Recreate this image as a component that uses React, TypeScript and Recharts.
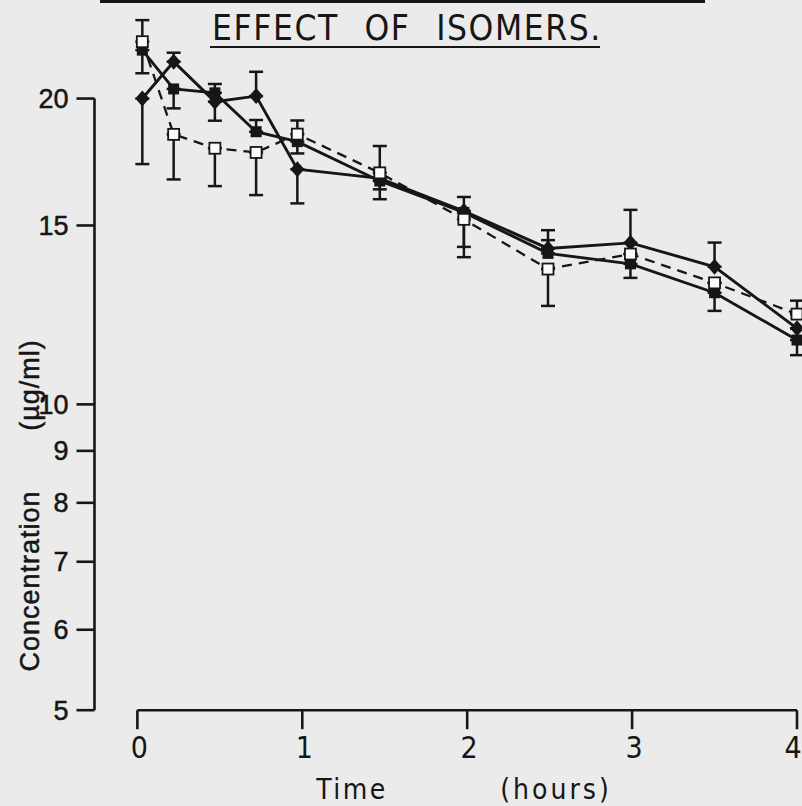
import React from 'react';
import { ComposedChart, Line, XAxis, YAxis, ErrorBar, ReferenceLine, Label } from 'recharts';

// sampling times (hours)
const times = [0.03, 0.22, 0.47, 0.72, 0.97, 1.47, 1.98, 2.49, 2.99, 3.5, 4.0];

// filled diamonds, solid line
const diamondMean = [20.0, 21.74, 19.86, 20.11, 17.04, 16.69, 15.5, 14.24, 14.42, 13.66, 11.88];
const diamondErrLow = [2.76, 0, 0.84, 0, 1.27, 0.77, 0, 0, 0, 0, 0];
const diamondErrHigh = [0, 0.45, 0, 1.14, 0, 0, 0.5, 0.6, 1.12, 0.77, 0];

// filled squares, solid line
const squareMean = [22.32, 20.44, 20.26, 18.55, 18.14, 16.59, 15.45, 14.08, 13.75, 12.88, 11.57];
const squareErrLow = [1.14, 0.88, 0, 0, 0.48, 0.31, 1.16, 0, 0.43, 0.52, 0.39];
const squareErrHigh = [0, 0, 0.41, 0.5, 0, 0, 0, 0.43, 0, 0, 0];

// open squares, dashed line
const openMean = [22.75, 18.44, 17.87, 17.7, 18.45, 16.9, 15.21, 13.59, 14.06, 13.17, 12.27];
const openErrLow = [0, 1.79, 1.47, 1.63, 0, 0, 1.25, 1.09, 0, 0, 0];
const openErrHigh = [1.14, 0, 0, 0, 0.58, 1.06, 0, 0, 0, 0, 0.38];

const yTicks = [5, 6, 7, 8, 9, 10, 15, 20];
const xTicks = [0, 1, 2, 3, 4];

const X_MIN = -0.26;
const INK = '#161616';
const PAPER = '#ebebeb';
const NARROW = '"Liberation Sans Narrow", "DejaVu Sans Condensed", sans-serif';
const SANS = '"Liberation Sans", Arial, sans-serif';

const data = times.map((t, i) => ({
  t,
  diamond: diamondMean[i],
  diamondErr: [diamondErrLow[i], diamondErrHigh[i]],
  square: squareMean[i],
  squareErr: [squareErrLow[i], squareErrHigh[i]],
  open: openMean[i],
  openErr: [openErrLow[i], openErrHigh[i]],
}));

const DiamondDot = (props: any) => {
  const { cx, cy, index } = props;
  if (cx == null || cy == null) return <g key={`d-${index}`} />;
  return (
    <path
      key={`d-${index}`}
      d={`M${cx},${cy - 8} L${cx + 7},${cy} L${cx},${cy + 8} L${cx - 7},${cy} Z`}
      fill={INK}
    />
  );
};

const SquareDot = (props: any) => {
  const { cx, cy, index } = props;
  if (cx == null || cy == null) return <g key={`s-${index}`} />;
  return <rect key={`s-${index}`} x={cx - 5.5} y={cy - 5.5} width={11} height={11} fill={INK} />;
};

const OpenDot = (props: any) => {
  const { cx, cy, index } = props;
  if (cx == null || cy == null) return <g key={`o-${index}`} />;
  return (
    <rect key={`o-${index}`} x={cx - 5.5} y={cy - 5.5} width={11} height={11} fill="#fafafa" stroke={INK} strokeWidth={1.8} />
  );
};

// hour labels; the last one is pulled in so it stays inside the frame
const HourTick = (props: any) => {
  const { x, y, payload } = props;
  const last = payload.value === 4;
  return (
    <text x={last ? x - 4 : x + 2} y={y} dy="0.71em" textAnchor="middle" fill={INK} fontSize={30} fontFamily={NARROW}>
      {payload.value}
    </text>
  );
};

// rotated axis title, two parts with a wide gap between them
const YTitle = (props: any) => {
  const { viewBox } = props;
  const x = viewBox.x - 5;
  return (
    <g fill={INK} stroke={INK} strokeWidth={0.5} fontFamily={SANS} fontSize={27}>
      <text x={x} y={581} textAnchor="middle" dominantBaseline="central" transform={`rotate(-90 ${x} 581)`} letterSpacing={1}>
        Concentration
      </text>
      <text x={x} y={385} textAnchor="middle" dominantBaseline="central" transform={`rotate(-90 ${x} 385)`} letterSpacing={1}>
        (µg/ml)
      </text>
    </g>
  );
};

const XTitle = () => (
  <g fill={INK} fontFamily={NARROW} fontSize={28}>
    <text x={352} y={799} textAnchor="middle" letterSpacing={2.5}>
      Time
    </text>
    <text x={556} y={799} textAnchor="middle" letterSpacing={3}>
      (hours)
    </text>
  </g>
);

export default function App() {
  return (
    <div style={{ position: 'absolute', left: 0, top: 0, width: 802, height: 806, background: PAPER, overflow: 'hidden' }}>
      <ComposedChart width={802} height={806} data={data} margin={{ top: 18.1, right: 5, bottom: 0, left: 34.5 }}>
        <XAxis
          dataKey="t"
          type="number"
          domain={[X_MIN, 4]}
          ticks={xTicks}
          interval={0}
          axisLine={false}
          tickSize={19}
          tickMargin={7}
          height={95.8}
          tickLine={{ stroke: INK, strokeWidth: 2.6 }}
          tick={<HourTick />}
        >
          <Label content={<XTitle />} />
        </XAxis>
        <YAxis
          type="number"
          scale="log"
          domain={[5, 24]}
          ticks={yTicks}
          interval={0}
          width={60}
          axisLine={false}
          tickSize={18}
          tickMargin={8}
          tickLine={{ stroke: INK, strokeWidth: 2.6 }}
          tick={{ fill: INK, stroke: INK, strokeWidth: 0.5, fontSize: 27, fontFamily: SANS }}
        >
          <Label content={<YTitle />} />
        </YAxis>

        {/* axis lines only span the tick range */}
        <ReferenceLine segment={[{ x: X_MIN, y: 5 }, { x: X_MIN, y: 20 }]} stroke={INK} strokeWidth={2.6} ifOverflow="visible" />
        <ReferenceLine segment={[{ x: 0, y: 5 }, { x: 4, y: 5 }]} stroke={INK} strokeWidth={2.6} ifOverflow="visible" />

        <Line dataKey="diamond" type="linear" stroke={INK} strokeWidth={2.9} dot={DiamondDot} isAnimationActive={false}>
          <ErrorBar dataKey="diamondErr" width={7} stroke={INK} strokeWidth={2.5} direction="y" />
        </Line>
        <Line dataKey="square" type="linear" stroke={INK} strokeWidth={2.9} dot={SquareDot} isAnimationActive={false}>
          <ErrorBar dataKey="squareErr" width={7} stroke={INK} strokeWidth={2.5} direction="y" />
        </Line>
        <Line dataKey="open" type="linear" stroke={INK} strokeWidth={2.3} strokeDasharray="10 7" dot={OpenDot} isAnimationActive={false}>
          <ErrorBar dataKey="openErr" width={7} stroke={INK} strokeWidth={2.5} direction="y" />
        </Line>
      </ComposedChart>

      <div style={{ position: 'absolute', left: 100, top: 0, width: 605, height: 3, background: INK }} />
      <div
        style={{
          position: 'absolute',
          left: 210,
          top: 10,
          width: 388,
          borderBottom: `2.5px solid ${INK}`,
          fontFamily: NARROW,
          fontSize: 35,
          lineHeight: '36px',
          letterSpacing: 1.6,
          wordSpacing: 14,
          color: INK,
          whiteSpace: 'nowrap',
          textAlign: 'left',
          paddingLeft: 2,
        }}
      >
        EFFECT OF ISOMERS.
      </div>
    </div>
  );
}
